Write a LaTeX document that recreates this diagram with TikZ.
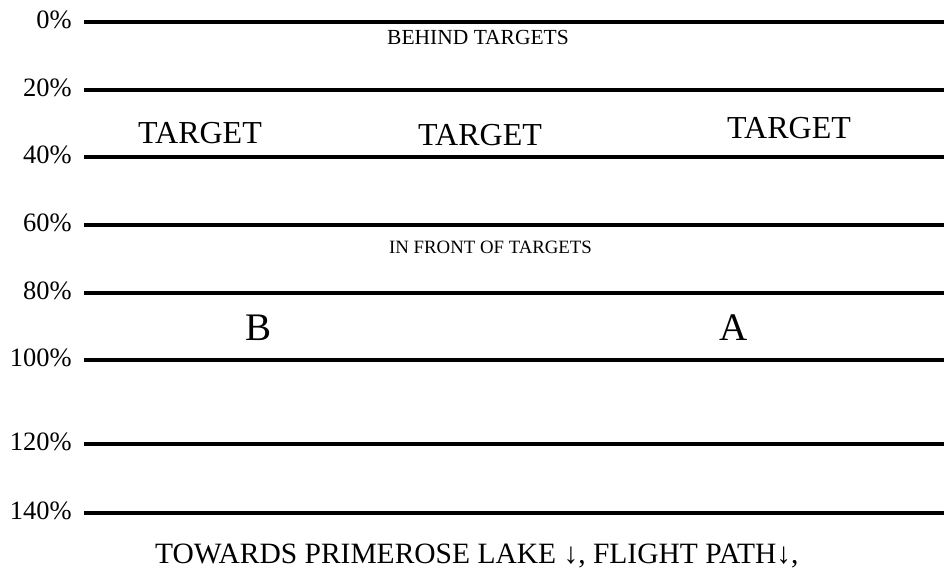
\documentclass[tikz,border=0pt]{standalone}
\usepackage{fontspec}
\setmainfont{Liberation Serif}
\begin{document}
\begin{tikzpicture}[x=1pt,y=-1pt,
  rule/.style={line width=4pt},
  pct/.style={anchor=base east,inner sep=0pt,font=\fontsize{26.5}{29}\selectfont},
  tgt/.style={anchor=base west,inner sep=0pt,font=\fontsize{32}{36}\selectfont},
  zone/.style={anchor=base west,inner sep=0pt,font=\fontsize{21.5}{24}\selectfont},
  zonesm/.style={anchor=base west,inner sep=0pt,font=\fontsize{18.8}{22}\selectfont},
  spot/.style={anchor=base west,inner sep=0pt,font=\fontsize{39}{44}\selectfont},
  foot/.style={anchor=base west,inner sep=0pt,font=\fontsize{29.5}{33}\selectfont}]
\useasboundingbox (0,0) rectangle (944,573);
\foreach \p/\yy in {0/22,20/90,40/157,60/225,80/293,100/360,120/444,140/513}{
  \coordinate (s\p) at (84,\yy);
  \coordinate (e\p) at (944,\yy);
  \draw[rule] (s\p) -- (e\p);
  \node[pct] (l\p) at (72,\yy+6.5) {\p\%};
}
\node[zone] (behind) at (387,44) {BEHIND TARGETS};
\node[tgt] (t1) at (138,143) {TARGET};
\node[tgt] (t2) at (418,145) {TARGET};
\node[tgt] (t3) at (727,138) {TARGET};
\node[zonesm] (front) at (389,253) {IN FRONT OF TARGETS};
\node[spot] (b) at (245,340) {B};
\node[spot] (a) at (719,340) {A};
\node[foot] (foot) at (155,563) {TOWARDS PRIMEROSE LAKE ↓, FLIGHT PATH↓,};
\end{tikzpicture}
\end{document}
